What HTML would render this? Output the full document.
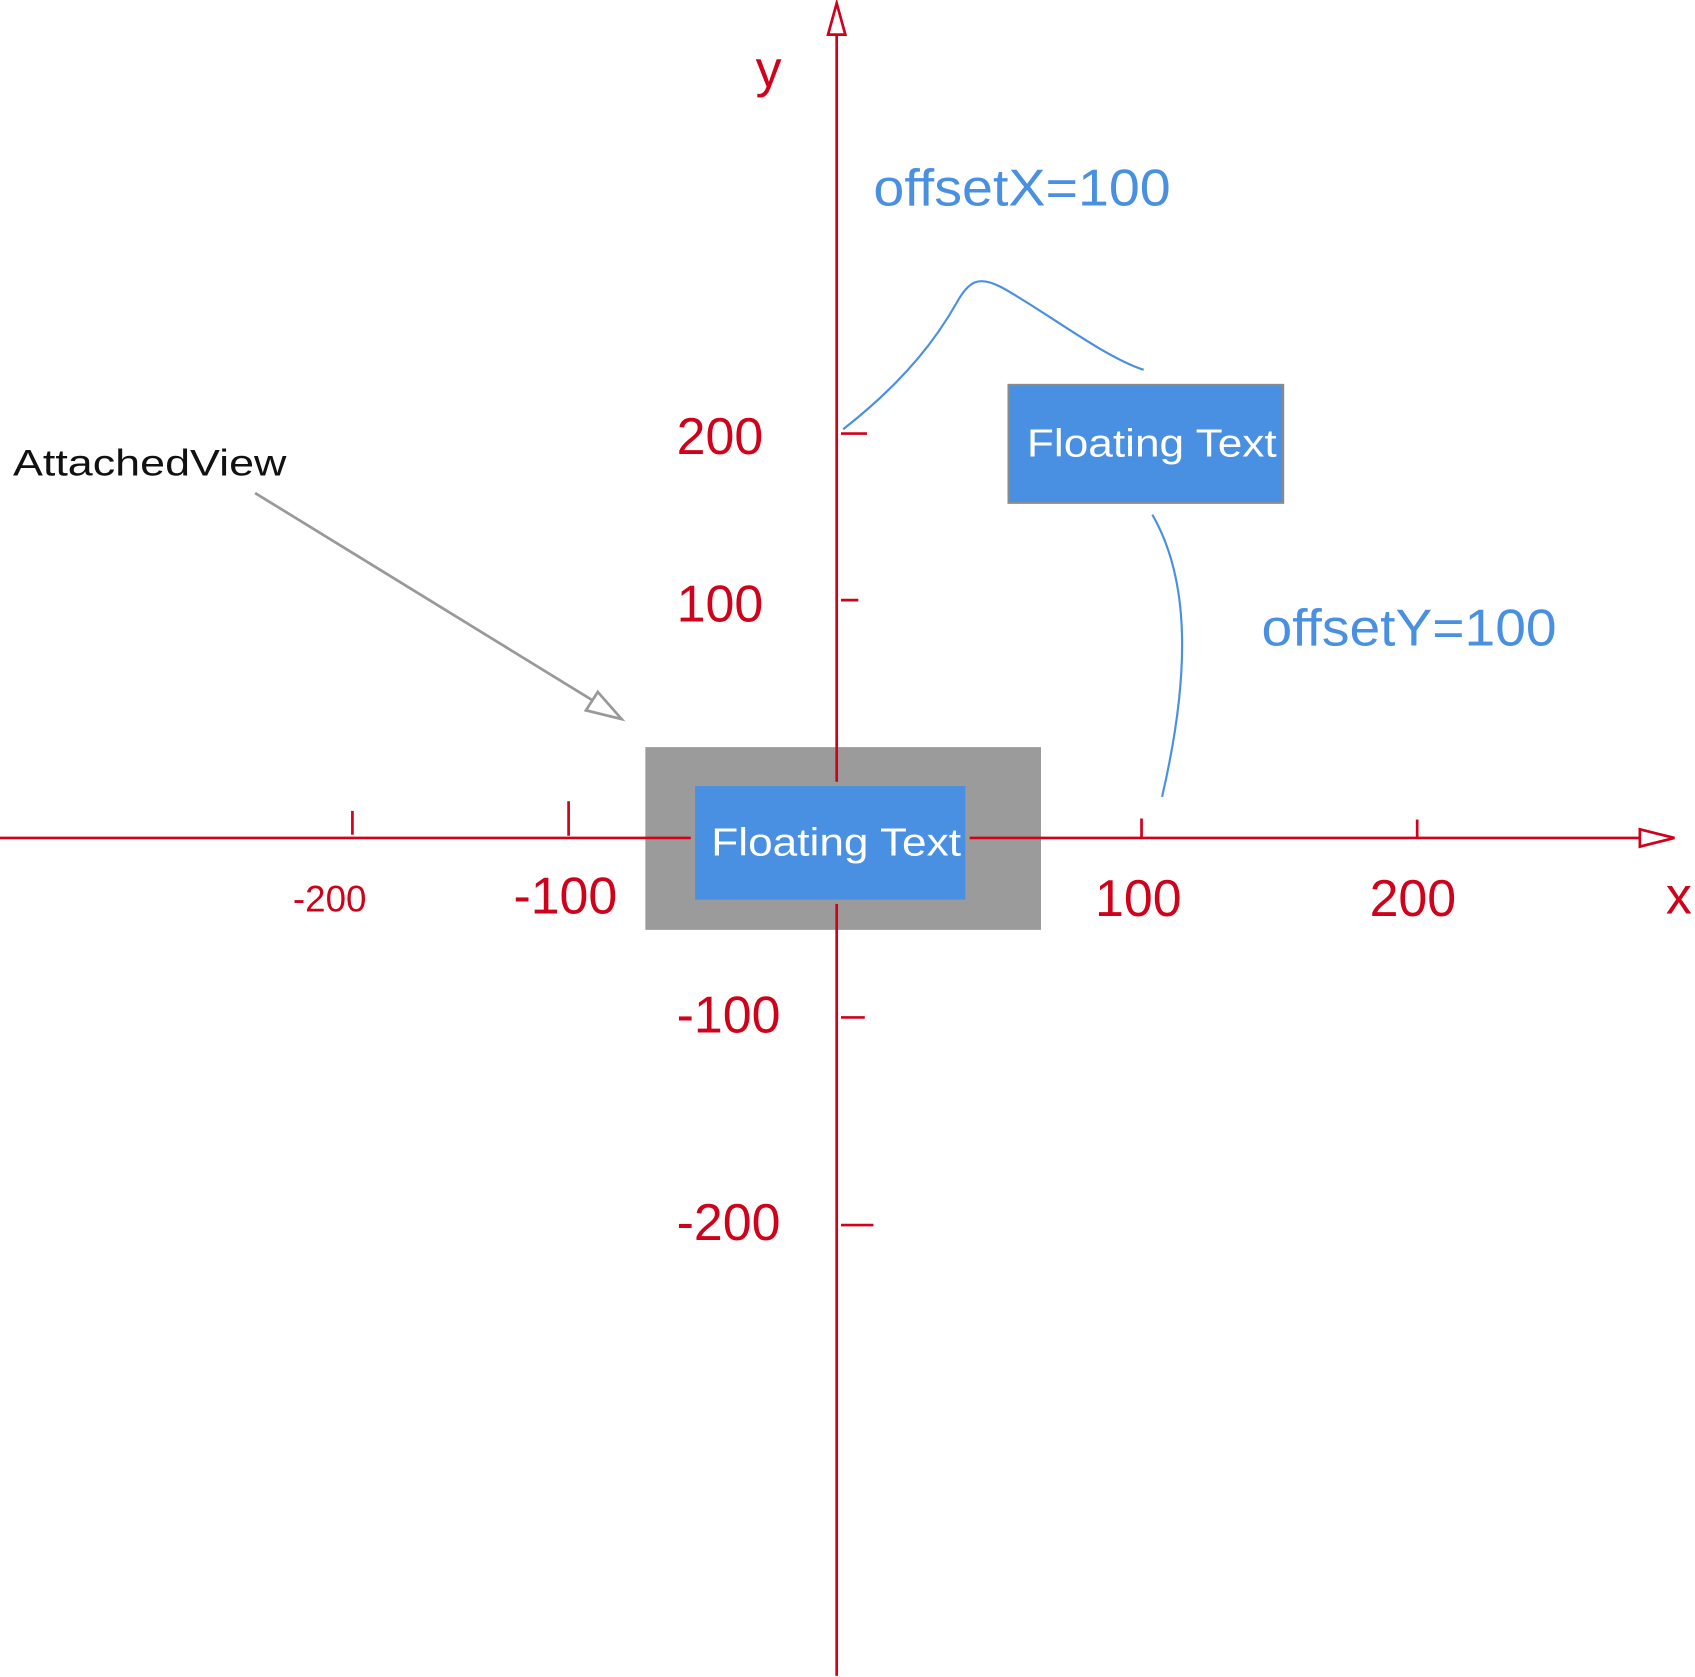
<!DOCTYPE html>
<html><head><meta charset="utf-8"><style>
html,body{margin:0;padding:0;background:#fff;}
svg{display:block;}
text{font-family:"Liberation Sans","DejaVu Sans",sans-serif;}
</style></head><body>
<svg width="1695" height="1677" viewBox="0 0 1568 1551" preserveAspectRatio="none" xmlns="http://www.w3.org/2000/svg">
<rect x="0" y="0" width="1568" height="1551" fill="#fff"/>
<rect x="597" y="691" width="366" height="169" fill="#9b9b9b"/>
<g stroke="#d0021b" stroke-width="2.5" fill="none">
<line x1="0" y1="775" x2="1545" y2="775"/>
<polygon points="1517,767 1549,775 1517,783" fill="#fff"/>
<line x1="774" y1="1550" x2="774" y2="6"/>
<polygon points="766,32 774,3 782,32" fill="#fff"/>
<line x1="778" y1="401" x2="802" y2="401"/>
<line x1="778" y1="555" x2="794" y2="555"/>
<line x1="778" y1="941" x2="800" y2="941"/>
<line x1="778" y1="1133" x2="808" y2="1133"/>
<line x1="326" y1="750" x2="326" y2="772"/>
<line x1="526" y1="741" x2="526" y2="773"/>
<line x1="1056" y1="757" x2="1056" y2="775"/>
<line x1="1311" y1="758" x2="1311" y2="775"/>
</g>
<rect x="639" y="723" width="258" height="113" fill="#9b9b9b"/>
<rect x="643" y="727" width="250" height="105" fill="#4a90e2"/>
<text x="658" y="791" font-size="36" fill="#fff" textLength="231" lengthAdjust="spacingAndGlyphs">Floating Text</text>
<rect x="933" y="356" width="254" height="109" fill="#4a90e2" stroke="#8a8a8a" stroke-width="2"/>
<text x="950" y="422" font-size="36" fill="#fff" textLength="231" lengthAdjust="spacingAndGlyphs">Floating Text</text>
<g fill="#d0021b" font-size="48">
<text x="706" y="420" text-anchor="end">200</text>
<text x="706" y="575" text-anchor="end">100</text>
<text x="722" y="955" text-anchor="end">-100</text>
<text x="722" y="1147" text-anchor="end">-200</text>
<text x="305" y="843" text-anchor="middle" font-size="34">-200</text>
<text x="523" y="845" text-anchor="middle">-100</text>
<text x="1053" y="847" text-anchor="middle">100</text>
<text x="1307" y="847" text-anchor="middle">200</text>
<text x="1553" y="845" text-anchor="middle">x</text>
<text x="711" y="80" text-anchor="middle">y</text>
</g>
<g fill="#4a90e2" font-size="48">
<text x="808" y="190" textLength="275" lengthAdjust="spacingAndGlyphs">offsetX=100</text>
<text x="1167" y="597" textLength="273" lengthAdjust="spacingAndGlyphs">offsetY=100</text>
</g>
<g stroke="#4a90e2" stroke-width="2" fill="none">
<path d="M780,397 C840,350 868,310 885,280 C896,260 905,255 925,265 C960,283 1020,330 1058,342"/>
<path d="M1066,476 C1100,535 1102,620 1075,737"/>
</g>
<text x="12" y="440" font-size="34" fill="#111" textLength="253" lengthAdjust="spacingAndGlyphs">AttachedView</text>
<g stroke="#999" stroke-width="2.5" fill="#fff">
<line x1="236" y1="456" x2="560" y2="655"/>
<polygon points="575,665 542,657 553,640"/>
</g>
</svg>
</body></html>
